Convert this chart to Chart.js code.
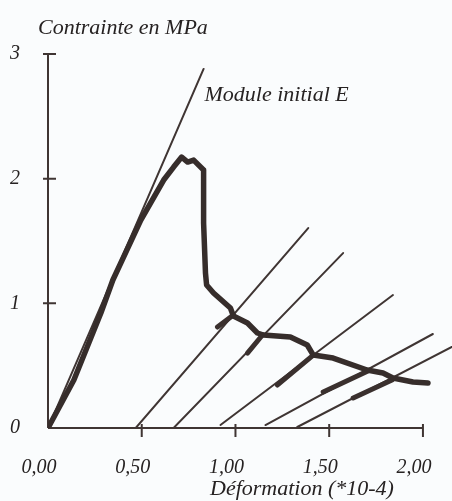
<!DOCTYPE html>
<html>
<head>
<meta charset="utf-8">
<script src="https://cdn.jsdelivr.net/npm/chart.js@4/dist/chart.umd.min.js"></script>
<style>
html, body { margin: 0; padding: 0; background: #fafcfd; }
</style>
</head>
<body>
<canvas id="graphe" width="452" height="501"></canvas>
<script>
// Valeurs
const xTicks = [0, 0.5, 1, 1.5, 2];
const yTicks = [0, 1, 2, 3];

// courbe contrainte / déformation
const courbeX = [0, 0.138, 0.282, 0.346, 0.495, 0.617, 0.670, 0.713, 0.745, 0.777, 0.830, 0.830, 0.840, 0.846, 0.883, 0.973, 0.989, 1.064, 1.117, 1.149, 1.293, 1.383, 1.415, 1.521, 1.702, 1.787, 1.840, 1.947, 2.027];
const courbeY = [0, 0.385, 0.922, 1.187, 1.668, 1.989, 2.093, 2.173, 2.133, 2.149, 2.069, 1.644, 1.243, 1.147, 1.083, 0.962, 0.898, 0.842, 0.762, 0.746, 0.730, 0.666, 0.585, 0.561, 0.465, 0.441, 0.401, 0.369, 0.361];

// module initial E
const moduleX = [0, 0.83];
const moduleY = [0, 2.88];

// droites de décharge
const dechargesX = [[0.468, 1.388], [0.670, 1.574], [0.920, 1.840], [1.160, 2.053], [1.330, 2.154]];
const dechargesY = [[0, 1.604], [0, 1.403], [0.024, 1.067], [0.024, 0.754], [0.008, 0.650]];

// portions de recharge (trait épais)
const rechargesX = [[0.904, 0.989], [1.064, 1.144], [1.223, 1.415], [1.468, 1.718], [1.628, 1.835]];
const rechargesY = [[0.810, 0.906], [0.601, 0.746], [0.345, 0.585], [0.289, 0.465], [0.241, 0.385]];

const couleur = '#3f3533';
const police = '"Liberation Serif", "DejaVu Serif", serif';

function points(xs, ys) {
    return xs.map((x, i) => ({ x: x, y: ys[i] }));
}

const datasets = [];
// courbe principale : contour foncé + coeur plus clair
datasets.push({ data: points(courbeX, courbeY), borderColor: '#362d2b', borderWidth: 5.5 });
datasets.push({ data: points(courbeX, courbeY), borderColor: '#6a5853', borderWidth: 2 });
rechargesX.forEach((xs, i) => {
    datasets.push({ data: points(xs, rechargesY[i]), borderColor: '#3a302e', borderWidth: 5 });
});
datasets.push({ data: points(moduleX, moduleY), borderColor: couleur, borderWidth: 2 });
dechargesX.forEach((xs, i) => {
    datasets.push({ data: points(xs, dechargesY[i]), borderColor: couleur, borderWidth: 2 });
});

// axes dessinés à la main (traits qui croisent l'axe)
const axesPlugin = {
    id: 'axes',
    beforeDatasetsDraw(chart) {
        const ctx = chart.ctx;
        const x = chart.scales.x, y = chart.scales.y;
        const x0 = x.getPixelForValue(0), y0 = y.getPixelForValue(0);
        ctx.save();
        ctx.strokeStyle = couleur;
        ctx.lineWidth = 2;
        ctx.beginPath();
        ctx.moveTo(x0, y0);
        ctx.lineTo(x0, y.getPixelForValue(yTicks[yTicks.length - 1]));
        ctx.moveTo(x0, y0);
        ctx.lineTo(x.getPixelForValue(xTicks[xTicks.length - 1]), y0);
        yTicks.slice(1).forEach(v => {
            const py = y.getPixelForValue(v);
            ctx.moveTo(x0 - 5, py);
            ctx.lineTo(x0 + 8, py);
        });
        xTicks.slice(1).forEach(v => {
            const px = x.getPixelForValue(v);
            ctx.moveTo(px, y0 - 4);
            ctx.lineTo(px, y0 + 9);
        });
        ctx.stroke();
        ctx.restore();
    },
    afterDraw(chart) {
        const ctx = chart.ctx;
        const x = chart.scales.x, y = chart.scales.y;
        ctx.save();
        ctx.fillStyle = '#262222';
        ctx.font = 'italic 22px ' + police;
        ctx.textBaseline = 'alphabetic';
        ctx.textAlign = 'left';
        ctx.fillText('Contrainte en MPa', 38, 34);
        ctx.fillText('Module initial E', x.getPixelForValue(0.835), y.getPixelForValue(2.62));
        ctx.fillText('Déformation (*10-4)', 210, 495);
        ctx.restore();
    }
};

new Chart(document.getElementById('graphe'), {
    type: 'scatter',
    data: { datasets: datasets },
    options: {
        responsive: false,
        animation: false,
        showLine: true,
        elements: {
            point: { radius: 0, hoverRadius: 0 },
            line: { tension: 0, borderCapStyle: 'round', borderJoinStyle: 'round' }
        },
        layout: { padding: { top: 54, left: 0, right: 0, bottom: 0 } },
        plugins: {
            legend: { display: false },
            tooltip: { enabled: false }
        },
        scales: {
            x: {
                type: 'linear',
                min: 0,
                max: 2.155,
                border: { display: false },
                grid: { display: false, drawTicks: false },
                afterBuildTicks: scale => { scale.ticks = xTicks.map(v => ({ value: v })); },
                afterFit: scale => {
                    scale.height = 73;
                    scale.paddingLeft = 0;
                    scale.paddingRight = 0;
                },
                ticks: {
                    color: '#262222',
                    padding: 28,
                    labelOffset: -9,
                    maxRotation: 0,
                    font: { family: police, size: 20, style: 'italic' },
                    callback: v => v.toFixed(2).replace('.', ',')
                }
            },
            y: {
                type: 'linear',
                min: 0,
                max: 3,
                border: { display: false },
                grid: { display: false, drawTicks: false },
                afterBuildTicks: scale => { scale.ticks = yTicks.map(v => ({ value: v })); },
                afterFit: scale => {
                    scale.width = 48;
                    scale.paddingTop = 0;
                    scale.paddingBottom = 0;
                },
                ticks: {
                    color: '#262222',
                    padding: 28,
                    font: { family: police, size: 20, style: 'italic' },
                    callback: v => String(v)
                }
            }
        }
    },
    plugins: [axesPlugin]
});
</script>
</body>
</html>
